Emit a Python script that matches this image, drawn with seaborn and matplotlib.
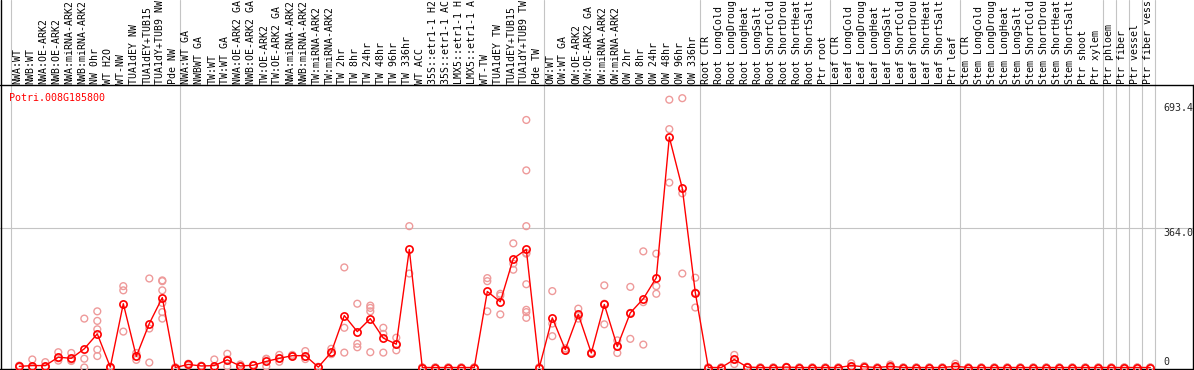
import matplotlib
matplotlib.use("Agg")
import matplotlib.pyplot as plt
import seaborn as sns
import pandas as pd

gene = "Potri.008G185800"

# labels as far as they can be read in the original (longer ones are cut at the top edge)
labels = [
    "NWA:WT", "NWB:WT", "NWA:OE-ARK2", "NWB:OE-ARK2", "NWA:miRNA-ARK2", "NWB:miRNA-ARK2",
    "NW 0hr", "WT H2O", "WT-NW", "TUA1dEY NW", "TUA1dEY+TUB15", "TUA1dY+TUB9 NW", "Pde NW",
    "NWA:WT GA", "NWBWT GA", "TW:WT", "TW:WT GA", "NWA:OE-ARK2 GA", "NWB:OE-ARK2 GA",
    "TW:OE-ARK2", "TW:OE-ARK2 GA", "NWA:miRNA-ARK2", "NWB:miRNA-ARK2", "TW:miRNA-ARK2",
    "TW:miRNA-ARK2", "TW 2hr", "TW 8hr", "TW 24hr", "TW 48hr", "TW 96hr", "TW 336hr", "WT ACC",
    "35S::etr1-1 H2", "35S::etr1-1 AC", "LMX5::etr1-1 H", "LMX5::etr1-1 A", "WT-TW",
    "TUA1dEY TW", "TUA1dEY+TUB15", "TUA1dY+TUB9 TW", "Pde TW",
    "OW:WT", "OW:WT GA", "OW:OE-ARK2", "OW:OE-ARK2 GA", "OW:miRNA-ARK2", "OW:miRNA-ARK2",
    "OW 2hr", "OW 8hr", "OW 24hr", "OW 48hr", "OW 96hr", "OW 336hr",
    "Root CTR", "Root LongCold", "Root LongDroug", "Root LongHeat", "Root LongSalt",
    "Root ShortCold", "Root ShortDrou", "Root ShortHeat", "Root ShortSalt", "Ptr root",
    "Leaf CTR", "Leaf LongCold", "Leaf LongDroug", "Leaf LongHeat", "Leaf LongSalt",
    "Leaf ShortCold", "Leaf ShortDrou", "Leaf ShortHeat", "Leaf ShortSalt", "Ptr leaf",
    "Stem CTR", "Stem LongCold", "Stem LongDroug", "Stem LongHeat", "Stem LongSalt",
    "Stem ShortCold", "Stem ShortDrou", "Stem ShortHeat", "Stem ShortSalt", "Ptr shoot",
    "Ptr xylem", "Ptr phloem", "Ptr fiber", "Ptr vessel", "Ptr fiber vess",
]

means = [
    3, 5, 5, 27, 24, 49, 88, 1, 167, 29, 115, 183, 0,
    8, 4, 5, 20, 4, 6, 16, 24, 31, 31, 1, 40, 136, 94, 128, 77, 61, 309,
    0, 0, 0, 0, 0, 199, 172, 285, 309, 0,
    130, 47, 139, 38, 165, 55, 143, 180, 235, 603, 469, 196,
    0, 0, 21, 1, 0, 0, 1, 0, 0, 0,
    0, 5, 2, 0, 3, 0, 0, 0, 0, 3,
    0, 0, 0, 0, 0, 0, 0, 0, 0, 0, 0,
    0, 0, 0, 0,
]

Z = [0, 0, 0]
reps = [
    [1, 4, 5], [21, 0, 2], [14, 2, 1], [40, 18, 24], [38, 17, 20], [128, 23, 0],
    [147, 122, 100, 47, 30], [0, 1, 2], [213, 202, 94], [20, 29, 38], [233, 102, 13],
    [228, 226, 202, 169, 145, 128], Z,
    [10, 5, 9], [4, 3, 5], [21, 0, 0], [36, 3, 21], [8, 2, 3], [7, 5, 6], [23, 3, 22],
    [33, 15, 24], [31, 29, 33], [43, 28, 22], [0, 1, 2], [49, 36, 35], [262, 104, 39],
    [167, 62, 53], [162, 156, 147, 40], [104, 39, 88], [78, 45, 60], [370, 246],
    Z, Z, Z, Z, Z, [234, 226, 147], [193, 188, 139], [325, 272, 256],
    [648, 516, 370, 300, 298, 218, 151, 145, 130], Z,
    [200, 115, 82], [45, 50, 46], [154, 128, 135], [38, 37, 39], [215, 113, 167],
    [71, 38, 56], [211, 75, 143], [304, 171, 60], [298, 213, 193], [701, 624, 484],
    [705, 456, 246], [235, 157, 196],
    Z, Z, [33, 21, 9], [2, 1, 0], Z, Z, [2, 1, 0], Z, Z, Z,
    Z, [11, 3, 1], [4, 1, 1], Z, [8, 1, 0], Z, Z, Z, Z, [10, 0, 0],
    Z, Z, Z, Z, Z, Z, Z, Z, Z, Z, Z,
    Z, Z, Z, Z,
]

group_starts = [0, 13, 41, 53, 63, 73, 84, 85, 86, 87, 88]
tick_values = [693.4, 364.0, 0]
tick_labels = ["693.4", "364.0", "0"]

# pixel layout of the original image
def px_x(px):
    return (px - 19.3) / 13.0

def px_y(py):
    return (367.5 - py) / 0.382

mean_df = pd.DataFrame({"pos": range(len(labels)), "value": means})
rep_df = pd.DataFrame(
    [(i, v) for i, vals in enumerate(reps) for v in vals], columns=["pos", "value"]
)

sns.set_style("white")
plt.rcParams["font.family"] = ["DejaVu Sans Mono"]

fig = plt.figure(figsize=(11.94, 3.70), dpi=100)
ax = fig.add_axes([0, 0, 1, 1])
ax.set_xlim(px_x(0), px_x(1194))
ax.set_ylim(px_y(370), px_y(0))
ax.axis("off")

grey = "#c4c4c4"
for s in group_starts:
    ax.axvline(s - 0.615, color=grey, lw=0.8, zorder=1)
ax.axhline(364.0, color=grey, lw=0.8, zorder=1)

# frame lines
ax.axhline(px_y(85), color="black", lw=1.0, zorder=2)
ax.axhline(px_y(369), color="black", lw=1.0, zorder=2)
ax.axvline(px_x(1), color="black", lw=1.0, zorder=2)
ax.plot([px_x(1192.5)] * 2, [px_y(85), px_y(370)], color="black", lw=1.0, zorder=2)

sns.scatterplot(data=rep_df, x="pos", y="value", ax=ax, marker="o", s=24,
                facecolor="none", edgecolor="#ee9a9a", linewidth=1.0, zorder=3,
                legend=False)
sns.lineplot(data=mean_df, x="pos", y="value", ax=ax, color="red", lw=1.0,
             marker="o", markersize=5.2, markerfacecolor="none",
             markeredgecolor="red", markeredgewidth=1.2, zorder=4)

for i, lab in enumerate(labels):
    ax.text(i - 0.15, px_y(83.5), lab, rotation=90, ha="center", va="bottom",
            fontsize=7.1, color="black")

ax.text(px_x(9), px_y(100.7), gene, color="red", fontsize=7.2, ha="left", va="baseline")

for v, t in zip(tick_values, tick_labels):
    if v == 0:
        ax.text(px_x(1163), px_y(365.3), t, fontsize=7.2, ha="left", va="baseline")
    else:
        ax.text(px_x(1163), v, t, fontsize=7.2, ha="left", va="top")

ax.set_xlabel("")
ax.set_ylabel("")
fig.savefig("out.png", dpi=100)
